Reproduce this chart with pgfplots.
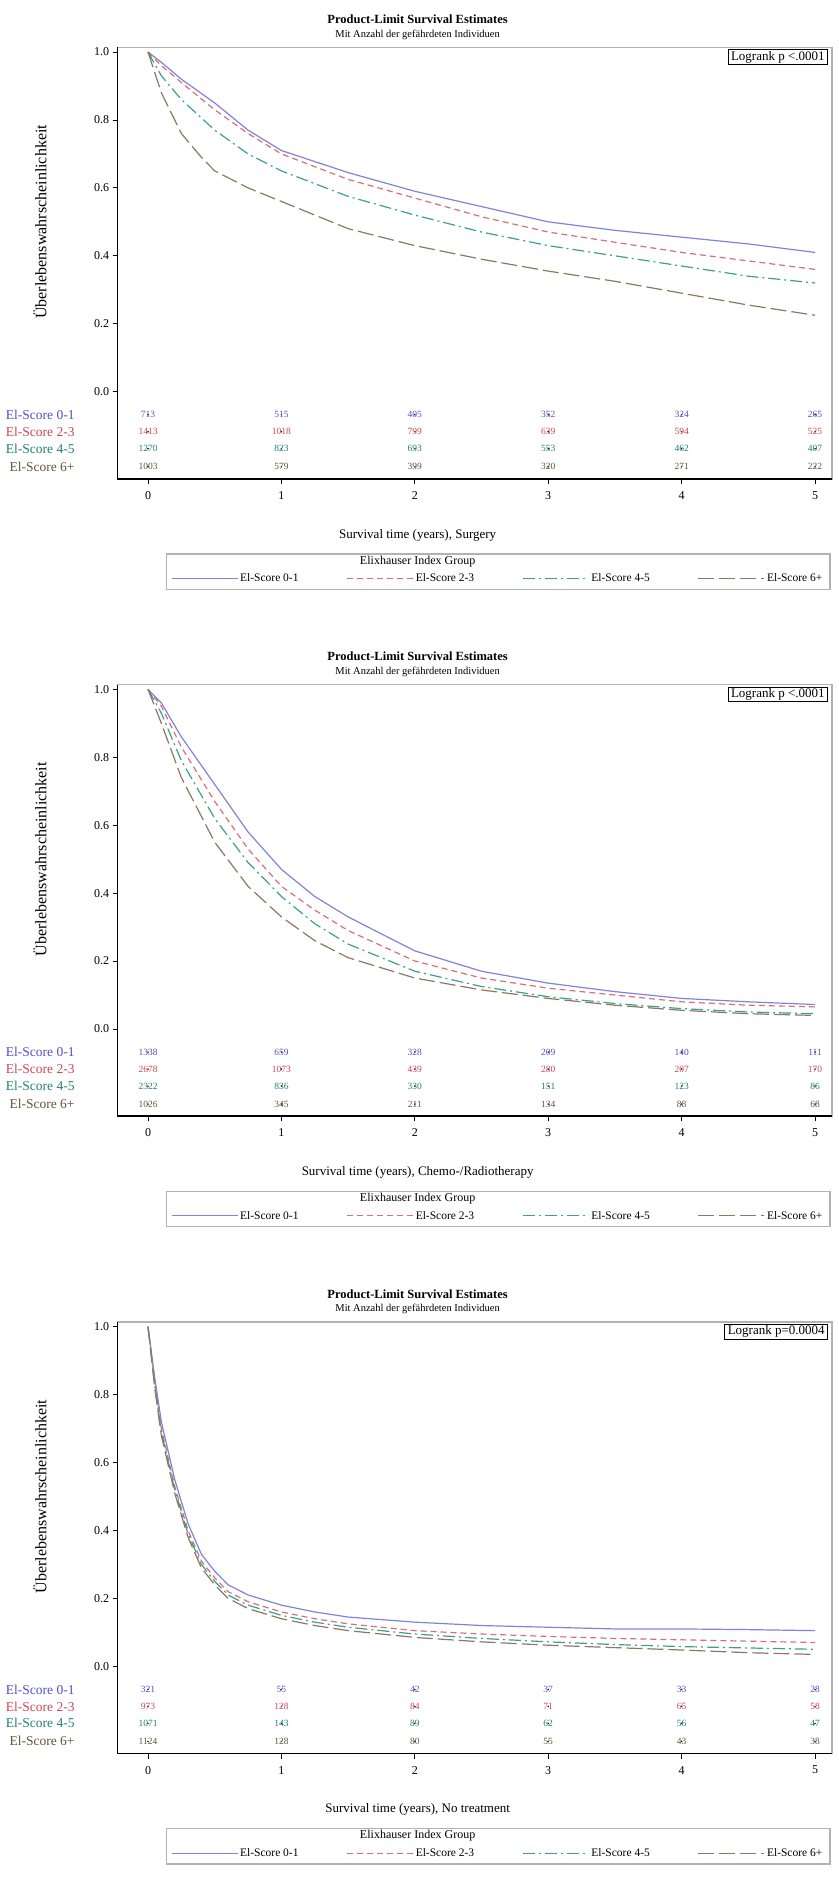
\documentclass[border=0pt]{standalone}
\usepackage{fontspec}
\setmainfont{Liberation Serif}
\usepackage{pgfplots}
\pgfplotsset{compat=1.18}
\definecolor{lA}{RGB}{130,130,220}
\definecolor{lB}{RGB}{215,110,120}
\definecolor{lC}{RGB}{60,160,140}
\definecolor{lD}{RGB}{140,120,95}
\definecolor{tA}{RGB}{80,80,200}
\definecolor{tB}{RGB}{205,70,85}
\definecolor{tC}{RGB}{30,130,110}
\definecolor{tD}{RGB}{100,85,55}
\newcommand\fsz[1]{\fontsize{#1pt}{#1pt}\selectfont}
\pgfplotsset{
 kmaxis/.style={
  width=714.4pt, height=431.7pt, scale only axis, anchor=south west, clip=false,
  xmin=-0.228, xmax=5.127, ymin=-0.257, ymax=1.014,
  xtick={0,1,2,3,4,5}, ytick={0,0.2,0.4,0.6,0.8,1.0},
  tick align=outside, tick pos=left, major tick length=5pt,
  tick style={black, line width=0.9pt},
  axis line style={draw=gray!60, line width=1.3pt},
  /pgf/number format/assume math mode=true,
  ticklabel style={font=\fsz{12}},
  yticklabel style={/pgf/number format/.cd, fixed, fixed zerofill, precision=1},
  xticklabel style={yshift=-4pt},
  legend columns=4,
  legend style={draw=none, fill=none, at={(axis description cs:0.532,-0.2305)}, anchor=center, font=\fsz{11.5},
    /tikz/every even column/.append style={column sep=46pt}},
  legend image code/.code={\draw[##1] (0pt,0pt) -- (66pt,0pt);},
 },
 sA/.style={color=lA, line width=1.2pt, solid},
 sB/.style={color=lB, line width=1.2pt, dash pattern=on 6pt off 4pt},
 sC/.style={color=lC, line width=1.2pt, dash pattern=on 12pt off 4pt on 2pt off 4pt},
 sD/.style={color=lD, line width=1.2pt, dash pattern=on 16pt off 5pt},
 risk/.style={only marks, mark=*, mark size=0.5pt, mark options={draw=none, fill=none},
   nodes near coords, point meta=explicit symbolic,
   every node near coord/.style={font=\fsz{9.5}, text=#1, anchor=center}, forget plot},
}
\newcommand\panelextras[2]{%
 \draw[black, line width=1.6pt] (rel axis cs:0,1) -- (rel axis cs:0,0) -- (rel axis cs:1,0);
 \node[font=\bfseries\fsz{12.5}, anchor=center, yshift=27.9pt] at (axis description cs:0.42,1) {Product-Limit Survival Estimates};
 \node[font=\fsz{10.5}, anchor=center, yshift=12.5pt] at (axis description cs:0.42,1) {Mit Anzahl der gefährdeten Individuen};
 \node[font=\fsz{16}, rotate=90, anchor=center] at (axis cs:-0.81,0.5) {Überlebenswahrscheinlichkeit};
 \node[font=\fsz{13}, anchor=center, yshift=-56pt] at (axis description cs:0.42,0) {#1};
 \node[draw=black, line width=0.7pt, font=\fsz{13}, anchor=north east, inner xsep=3pt, inner ysep=1.5pt, xshift=-4pt, yshift=-2pt] at (rel axis cs:1,1) {#2};
 \draw[gray!60, line width=1.3pt] (axis description cs:0.068,-0.174) rectangle (axis description cs:0.997,-0.256);
 \node[font=\fsz{12}, anchor=center] at (axis description cs:0.42,-0.191) {Elixhauser Index Group};
 \node[anchor=east, text=tA, font=\fsz{13.5}, xshift=-39.5pt] at (axis cs:-0.228,-0.068) {El-Score 0-1};
 \node[anchor=east, text=tB, font=\fsz{13.5}, xshift=-39.5pt] at (axis cs:-0.228,-0.118) {El-Score 2-3};
 \node[anchor=east, text=tC, font=\fsz{13.5}, xshift=-39.5pt] at (axis cs:-0.228,-0.168) {El-Score 4-5};
 \node[anchor=east, text=tD, font=\fsz{13.5}, xshift=-39.5pt] at (axis cs:-0.228,-0.221) {El-Score 6+};
}
\begin{document}
\begin{tikzpicture}
\path[use as bounding box] (0pt,0pt) rectangle (838pt,1902pt);
% ---------------- Panel 1: Surgery
\begin{axis}[kmaxis, at={(117.6pt,1423pt)}]
\addplot[sA] coordinates {(0,1) (0.1,0.97) (0.25,0.92) (0.5,0.85) (0.75,0.77) (1,0.71) (1.5,0.645) (2,0.59) (2.5,0.545) (3,0.50) (3.5,0.475) (4,0.455) (4.5,0.435) (5,0.41)};
\addlegendentry{El-Score 0-1}
\addplot[sB] coordinates {(0,1) (0.1,0.96) (0.25,0.91) (0.5,0.83) (0.75,0.76) (1,0.70) (1.5,0.625) (2,0.57) (2.5,0.515) (3,0.47) (3.5,0.44) (4,0.41) (4.5,0.385) (5,0.36)};
\addlegendentry{El-Score 2-3}
\addplot[sC] coordinates {(0,1) (0.1,0.93) (0.25,0.86) (0.5,0.77) (0.75,0.70) (1,0.65) (1.5,0.575) (2,0.52) (2.5,0.47) (3,0.43) (3.5,0.40) (4,0.37) (4.5,0.34) (5,0.32)};
\addlegendentry{El-Score 4-5}
\addplot[sD] coordinates {(0,1) (0.1,0.88) (0.25,0.76) (0.4,0.69) (0.5,0.65) (0.75,0.60) (1,0.56) (1.5,0.48) (2,0.43) (2.5,0.39) (3,0.355) (3.5,0.325) (4,0.29) (4.5,0.255) (5,0.225)};
\addlegendentry{El-Score 6+}
\addplot[risk=tA] table[meta=n] {x y n
0 -0.068 713
1 -0.068 515
2 -0.068 405
3 -0.068 352
4 -0.068 324
5 -0.068 265
};
\addplot[risk=tB] table[meta=n] {x y n
0 -0.118 1413
1 -0.118 1018
2 -0.118 799
3 -0.118 639
4 -0.118 594
5 -0.118 525
};
\addplot[risk=tC] table[meta=n] {x y n
0 -0.168 1270
1 -0.168 823
2 -0.168 693
3 -0.168 553
4 -0.168 462
5 -0.168 407
};
\addplot[risk=tD] table[meta=n] {x y n
0 -0.221 1003
1 -0.221 579
2 -0.221 399
3 -0.221 320
4 -0.221 271
5 -0.221 222
};
\panelextras{Survival time (years), Surgery}{Logrank p <.0001}
\end{axis}
% ---------------- Panel 2: Chemo/Radio
\begin{axis}[kmaxis, at={(117.6pt,785.7pt)}]
\addplot[sA] coordinates {(0,1) (0.1,0.96) (0.25,0.86) (0.5,0.72) (0.75,0.58) (1,0.47) (1.25,0.39) (1.5,0.33) (2,0.23) (2.5,0.17) (3,0.135) (3.5,0.11) (4,0.09) (4.5,0.08) (5,0.072)};
\addlegendentry{El-Score 0-1}
\addplot[sB] coordinates {(0,1) (0.1,0.95) (0.25,0.83) (0.5,0.67) (0.75,0.53) (1,0.42) (1.25,0.35) (1.5,0.29) (2,0.20) (2.5,0.15) (3,0.12) (3.5,0.10) (4,0.08) (4.5,0.07) (5,0.065)};
\addlegendentry{El-Score 2-3}
\addplot[sC] coordinates {(0,1) (0.1,0.93) (0.25,0.79) (0.5,0.62) (0.75,0.49) (1,0.39) (1.25,0.31) (1.5,0.25) (2,0.17) (2.5,0.125) (3,0.095) (3.5,0.075) (4,0.06) (4.5,0.05) (5,0.045)};
\addlegendentry{El-Score 4-5}
\addplot[sD] coordinates {(0,1) (0.1,0.90) (0.25,0.74) (0.5,0.55) (0.75,0.42) (1,0.33) (1.25,0.26) (1.5,0.21) (2,0.15) (2.5,0.115) (3,0.09) (3.5,0.07) (4,0.055) (4.5,0.045) (5,0.04)};
\addlegendentry{El-Score 6+}
\addplot[risk=tA] table[meta=n] {x y n
0 -0.068 1338
1 -0.068 659
2 -0.068 328
3 -0.068 209
4 -0.068 140
5 -0.068 111
};
\addplot[risk=tB] table[meta=n] {x y n
0 -0.118 2678
1 -0.118 1073
2 -0.118 439
3 -0.118 280
4 -0.118 207
5 -0.118 170
};
\addplot[risk=tC] table[meta=n] {x y n
0 -0.168 2322
1 -0.168 836
2 -0.168 330
3 -0.168 151
4 -0.168 123
5 -0.168 86
};
\addplot[risk=tD] table[meta=n] {x y n
0 -0.221 1026
1 -0.221 345
2 -0.221 211
3 -0.221 134
4 -0.221 88
5 -0.221 68
};
\panelextras{Survival time (years), Chemo-/Radiotherapy}{Logrank p <.0001}
\end{axis}
% ---------------- Panel 3: No treatment
\begin{axis}[kmaxis, at={(117.6pt,148.4pt)}]
\addplot[sA] coordinates {(0,1) (0.05,0.85) (0.1,0.72) (0.2,0.55) (0.3,0.42) (0.4,0.33) (0.5,0.28) (0.6,0.24) (0.75,0.21) (1,0.18) (1.25,0.16) (1.5,0.145) (2,0.13) (2.5,0.12) (3,0.115) (3.5,0.11) (4,0.11) (4.5,0.108) (5,0.105)};
\addlegendentry{El-Score 0-1}
\addplot[sB] coordinates {(0,1) (0.05,0.84) (0.1,0.70) (0.2,0.53) (0.3,0.40) (0.4,0.31) (0.5,0.26) (0.6,0.22) (0.75,0.19) (1,0.16) (1.25,0.14) (1.5,0.125) (2,0.105) (2.5,0.095) (3,0.088) (3.5,0.082) (4,0.078) (4.5,0.074) (5,0.07)};
\addlegendentry{El-Score 2-3}
\addplot[sC] coordinates {(0,1) (0.05,0.83) (0.1,0.69) (0.2,0.52) (0.3,0.39) (0.4,0.30) (0.5,0.25) (0.6,0.21) (0.75,0.18) (1,0.15) (1.25,0.13) (1.5,0.115) (2,0.095) (2.5,0.082) (3,0.072) (3.5,0.064) (4,0.058) (4.5,0.054) (5,0.05)};
\addlegendentry{El-Score 4-5}
\addplot[sD] coordinates {(0,1) (0.05,0.82) (0.1,0.68) (0.2,0.51) (0.3,0.38) (0.4,0.29) (0.5,0.24) (0.6,0.20) (0.75,0.17) (1,0.14) (1.25,0.12) (1.5,0.105) (2,0.085) (2.5,0.072) (3,0.062) (3.5,0.055) (4,0.048) (4.5,0.04) (5,0.035)};
\addlegendentry{El-Score 6+}
\addplot[risk=tA] table[meta=n] {x y n
0 -0.068 321
1 -0.068 55
2 -0.068 42
3 -0.068 37
4 -0.068 33
5 -0.068 28
};
\addplot[risk=tB] table[meta=n] {x y n
0 -0.118 973
1 -0.118 128
2 -0.118 84
3 -0.118 71
4 -0.118 65
5 -0.118 58
};
\addplot[risk=tC] table[meta=n] {x y n
0 -0.168 1071
1 -0.168 143
2 -0.168 89
3 -0.168 62
4 -0.168 56
5 -0.168 47
};
\addplot[risk=tD] table[meta=n] {x y n
0 -0.221 1124
1 -0.221 128
2 -0.221 80
3 -0.221 55
4 -0.221 43
5 -0.221 38
};
\panelextras{Survival time (years), No treatment}{Logrank p=0.0004}
\end{axis}
\end{tikzpicture}
\end{document}
